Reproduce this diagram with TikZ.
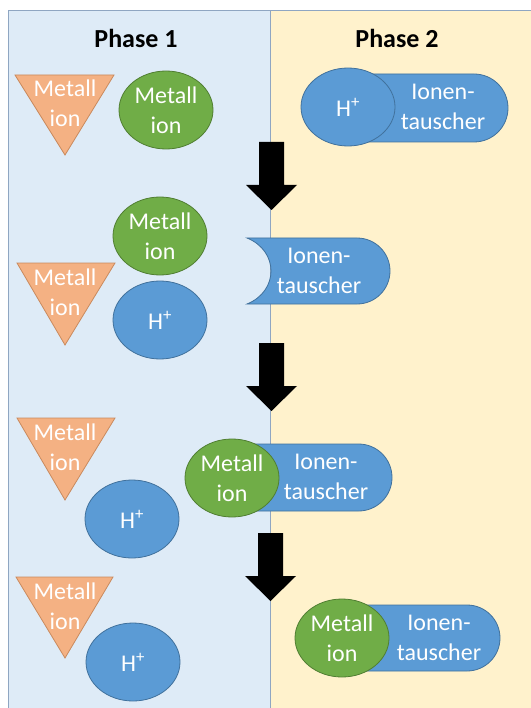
\documentclass[tikz,border=0pt]{standalone}
\usepackage{fontspec}
\setmainfont{Carlito}
\usetikzlibrary{shapes.geometric}
\definecolor{phaseone}{HTML}{DEEBF7}
\definecolor{phasetwo}{HTML}{FFF2CC}
\definecolor{panelline}{HTML}{8FA6C2}
\definecolor{ionblue}{HTML}{5B9BD5}
\definecolor{ionblueline}{HTML}{41719C}
\definecolor{iongreen}{HTML}{70AD47}
\definecolor{iongreenline}{HTML}{507E32}
\definecolor{metalorange}{HTML}{F4B183}
\definecolor{metalline}{HTML}{C98A5E}

\begin{document}
\begin{tikzpicture}
[every node/.style={inner sep=0pt, align=center, text=white, font=\fontsize{24}{30}\selectfont},
 blueion/.style={ellipse, minimum width=94pt, minimum height=78pt, fill=ionblue, draw=ionblueline, line width=0.8pt},
 greenion/.style={ellipse, minimum width=94pt, minimum height=78pt, fill=iongreen, draw=iongreenline, line width=0.8pt},
 tauscher/.style={fill=ionblue, draw=ionblueline, line width=0.8pt},
 metal/.style={fill=metalorange, draw=metalline, line width=0.8pt},
 title/.style={text=black, font=\fontsize{26}{30}\selectfont\bfseries}]

\useasboundingbox (0pt,0pt) rectangle (530pt,-708pt);
\filldraw [fill=phaseone, draw=panelline, line width=1pt] (8pt,-11pt) rectangle (270pt,-720pt);
\filldraw [fill=phasetwo, draw=panelline, line width=1pt] (270pt,-11pt) rectangle (540pt,-720pt);
\node (t1) [title] at (136pt,-38pt) {Phase 1};
\node (t2) [title] at (397pt,-38pt) {Phase 2};

% arrows between the steps
\fill [black] (259pt,-142pt) -- (284pt,-142pt) -- (284pt,-185pt) -- (297pt,-185pt) -- (271.5pt,-210pt) -- (246pt,-185pt) -- (259pt,-185pt) -- cycle;
\fill [black] (259pt,-343pt) -- (284pt,-343pt) -- (284pt,-386pt) -- (297pt,-386pt) -- (271.5pt,-411pt) -- (246pt,-386pt) -- (259pt,-386pt) -- cycle;
\fill [black] (258pt,-533pt) -- (283pt,-533pt) -- (283pt,-576pt) -- (296pt,-576pt) -- (270.5pt,-601pt) -- (245pt,-576pt) -- (258pt,-576pt) -- cycle;

% step 1
\filldraw [metal] (15pt,-75pt) -- (114pt,-75pt) -- (65pt,-155pt) -- cycle;
\node (mo1) at (65pt,-103pt) {Metall\\ion};
\node (mg1) [greenion] at (166pt,-110pt) {Metall\\ion};
\filldraw [tauscher] (345pt,-74pt) -- (474pt,-74pt) arc [start angle=90, end angle=-90, radius=34pt] -- (345pt,-142pt) -- cycle;
\node (it1) at (443pt,-107pt) {Ionen-\\tauscher};
\node (h1) [blueion] at (348pt,-107pt) {H\textsuperscript{+}};

% step 2
\filldraw [metal] (17pt,-263pt) -- (115pt,-263pt) -- (65pt,-345pt) -- cycle;
\node (mo2) at (65pt,-292pt) {Metall\\ion};
\node (mg2) [greenion] at (160pt,-236pt) {Metall\\ion};
\node (h2) [blueion] at (160pt,-320pt) {H\textsuperscript{+}};
\filldraw [tauscher] (247pt,-238pt) -- (357pt,-238pt) arc [start angle=90, end angle=-90, radius=33pt] -- (247pt,-304pt) .. controls (279pt,-291pt) and (279pt,-251pt) .. (247pt,-238pt) -- cycle;
\node (it2) at (319pt,-271pt) {Ionen-\\tauscher};

% step 3
\filldraw [metal] (17pt,-418pt) -- (115pt,-418pt) -- (65pt,-500pt) -- cycle;
\node (mo3) at (65pt,-447pt) {Metall\\ion};
\node (h3) [blueion] at (132pt,-519pt) {H\textsuperscript{+}};
\filldraw [tauscher] (240pt,-444pt) -- (358.5pt,-444pt) arc [start angle=90, end angle=-90, radius=33.5pt] -- (240pt,-511pt) -- cycle;
\node (it3) at (326pt,-477pt) {Ionen-\\tauscher};
\node (mg3) [greenion] at (232pt,-478pt) {Metall\\ion};

% step 4
\filldraw [metal] (16pt,-577pt) -- (113pt,-577pt) -- (65pt,-658pt) -- cycle;
\node (mo4) at (65pt,-606pt) {Metall\\ion};
\node (h4) [blueion] at (133pt,-662pt) {H\textsuperscript{+}};
\filldraw [tauscher] (340pt,-605pt) -- (467pt,-605pt) arc [start angle=90, end angle=-90, radius=33pt] -- (340pt,-671pt) -- cycle;
\node (it4) at (439pt,-638pt) {Ionen-\\tauscher};
\node (mg4) [greenion] at (342pt,-638pt) {Metall\\ion};

\end{tikzpicture}
\end{document}
